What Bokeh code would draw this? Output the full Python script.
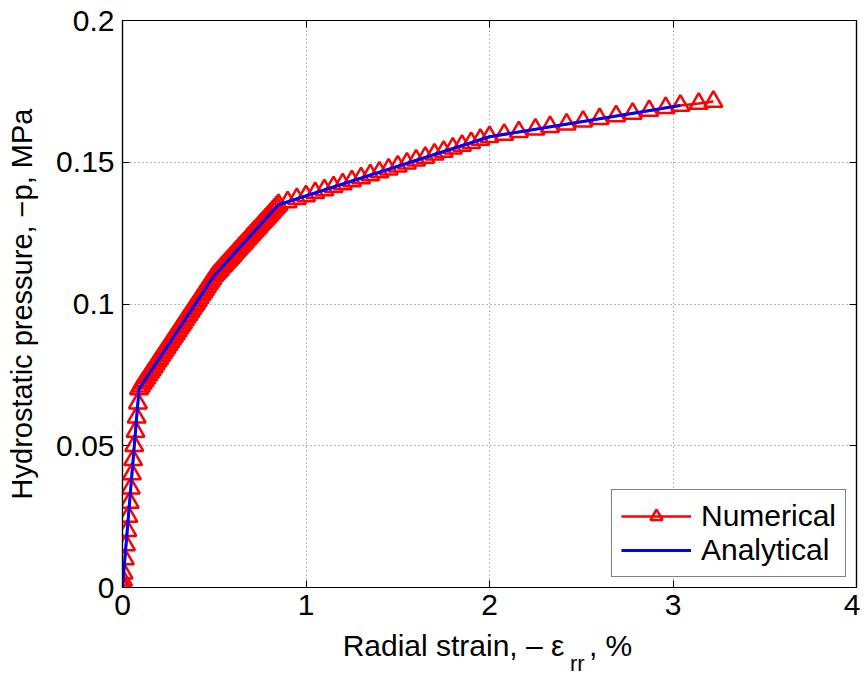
from bokeh.plotting import figure
from bokeh.models import Range1d, FixedTicker, LinearAxis, Legend, LegendItem
from bokeh.embed import file_html
from bokeh.resources import INLINE

# Analytical solution (knees of the piecewise curve)
ana_x = [0.0, 0.09, 0.50, 0.85, 2.00, 3.04]
ana_y = [0.0, 0.070, 0.110, 0.135, 0.159, 0.170]

num_x = [0.000, 0.001, 0.003, 0.006, 0.013, 0.019, 0.026, 0.032, 0.039, 0.045,
         0.051, 0.058, 0.064, 0.071, 0.077, 0.084, 0.090,
         0.10, 0.11, 0.12, 0.13, 0.14, 0.15, 0.16, 0.17, 0.18, 0.19,
         0.20, 0.21, 0.22, 0.23, 0.24, 0.25, 0.26, 0.27, 0.28, 0.29,
         0.30, 0.31, 0.32, 0.33, 0.34, 0.35, 0.36, 0.37, 0.38, 0.39,
         0.40, 0.41, 0.42, 0.43, 0.44, 0.45, 0.46, 0.47, 0.48, 0.49, 0.50,
         0.51, 0.52, 0.53, 0.54, 0.55, 0.56, 0.57, 0.58, 0.59, 0.60,
         0.61, 0.62, 0.63, 0.64, 0.65, 0.66, 0.67, 0.68, 0.69, 0.70,
         0.71, 0.72, 0.73, 0.74, 0.75, 0.76, 0.77, 0.78, 0.79, 0.80,
         0.81, 0.82, 0.83, 0.84, 0.85,
         0.90, 0.95, 1.00, 1.05, 1.10, 1.15, 1.20, 1.25, 1.30, 1.35,
         1.40, 1.45, 1.50, 1.55, 1.60, 1.65, 1.70, 1.75, 1.80, 1.85,
         1.90, 1.95, 2.00,
         2.08, 2.16, 2.25, 2.33, 2.42, 2.51, 2.60, 2.69, 2.78, 2.87,
         2.96, 3.04, 3.14, 3.22]
num_y = [0.0000, 0.0010, 0.0025, 0.0050, 0.0100, 0.0150, 0.0200, 0.0250, 0.0300, 0.0350,
         0.0400, 0.0450, 0.0500, 0.0550, 0.0600, 0.0650, 0.0700,
         0.0710, 0.0720, 0.0729, 0.0739, 0.0749, 0.0759, 0.0768, 0.0778, 0.0788, 0.0798,
         0.0807, 0.0817, 0.0827, 0.0837, 0.0846, 0.0856, 0.0866, 0.0876, 0.0885, 0.0895,
         0.0905, 0.0915, 0.0924, 0.0934, 0.0944, 0.0954, 0.0963, 0.0973, 0.0983, 0.0993,
         0.1002, 0.1012, 0.1022, 0.1032, 0.1041, 0.1051, 0.1061, 0.1071, 0.1080, 0.1090, 0.1100,
         0.1107, 0.1114, 0.1121, 0.1129, 0.1136, 0.1143, 0.1150, 0.1157, 0.1164, 0.1171,
         0.1179, 0.1186, 0.1193, 0.1200, 0.1207, 0.1214, 0.1221, 0.1229, 0.1236, 0.1243,
         0.1250, 0.1257, 0.1264, 0.1271, 0.1279, 0.1286, 0.1293, 0.1300, 0.1307, 0.1314,
         0.1321, 0.1329, 0.1336, 0.1343, 0.1350,
         0.1360, 0.1371, 0.1381, 0.1392, 0.1402, 0.1413, 0.1423, 0.1434, 0.1444, 0.1455,
         0.1465, 0.1475, 0.1486, 0.1496, 0.1507, 0.1517, 0.1528, 0.1538, 0.1549, 0.1559,
         0.1569, 0.1580, 0.1590,
         0.1598, 0.1607, 0.1616, 0.1625, 0.1634, 0.1644, 0.1653, 0.1663, 0.1672, 0.1682,
         0.1692, 0.1700, 0.1707, 0.1714]

x_ticks = [0, 1, 2, 3, 4]
x_tick_labels = ["0", "1", "2", "3", "4"]
y_ticks = [0, 0.05, 0.1, 0.15, 0.2]
y_tick_labels = ["0", "0.05", "0.1", "0.15", "0.2"]

x_label_main = "Radial strain, \u2013 \u03b5"
x_label_sub = "rr"
x_label_tail = ", %"
y_label = "Hydrostatic pressure, \u2212p, MPa"
series_names = ["Numerical", "Analytical"]

FONT = "Liberation Sans"
FS = "30px"

p = figure(width=860, height=678, output_backend="svg", toolbar_location=None,
           x_range=Range1d(0, 4), y_range=Range1d(0, 0.2),
           min_border_left=122, min_border_right=4, min_border_top=20, min_border_bottom=91)
p.background_fill_color = "white"
p.border_fill_color = "white"
p.outline_line_color = "black"
p.outline_line_width = 1.2

# Axes
for ax, ticks, labels in ((p.xaxis[0], x_ticks, x_tick_labels), (p.yaxis[0], y_ticks, y_tick_labels)):
    ax.ticker = FixedTicker(ticks=ticks)
    ax.major_label_overrides = {t: l for t, l in zip(ticks, labels)}
    ax.major_label_text_font = FONT
    ax.major_label_text_font_size = FS
    ax.major_label_text_color = "black"
    ax.major_tick_in = 7
    ax.major_tick_out = 0
    ax.minor_tick_in = 0
    ax.minor_tick_out = 0
    ax.axis_line_color = "black"
    ax.axis_line_width = 1.2
    ax.major_tick_line_color = "black"
    ax.major_label_standoff = 8
p.xaxis[0].major_label_standoff = 7

p.yaxis[0].axis_label = y_label
p.yaxis[0].axis_label_text_font = FONT
p.yaxis[0].axis_label_text_font_size = "29px"
p.yaxis[0].axis_label_text_font_style = "normal"
p.yaxis[0].axis_label_text_color = "black"
p.yaxis[0].axis_label_standoff = 15

# top/right tick-only axes (box)
top = LinearAxis(ticker=FixedTicker(ticks=x_ticks), major_label_overrides={t: "" for t in x_ticks},
                 major_tick_in=7, major_tick_out=0, minor_tick_in=0, minor_tick_out=0,
                 major_label_standoff=0, axis_line_width=1.2)
right = LinearAxis(ticker=FixedTicker(ticks=y_ticks), major_label_overrides={t: "" for t in y_ticks},
                   major_tick_in=7, major_tick_out=0, minor_tick_in=0, minor_tick_out=0,
                   major_label_standoff=0, axis_line_width=1.2)
p.add_layout(top, "above")
p.add_layout(right, "right")

# X axis label built from two extra label-only axes (main text + subscript)
lab_pos_main = [1.804, 2.66]
lab_pos_sub = [2.478]
ax_main = LinearAxis(ticker=FixedTicker(ticks=lab_pos_main),
                     major_label_overrides={lab_pos_main[0]: x_label_main, lab_pos_main[1]: x_label_tail},
                     major_label_text_font=FONT, major_label_text_font_size=FS,
                     major_label_text_color="black",
                     axis_line_color=None, major_tick_line_color=None, minor_tick_line_color=None,
                     major_tick_in=0, major_tick_out=0, minor_tick_in=0, minor_tick_out=0,
                     major_label_standoff=11)
ax_sub = LinearAxis(ticker=FixedTicker(ticks=lab_pos_sub),
                    major_label_overrides={lab_pos_sub[0]: x_label_sub},
                    major_label_text_font=FONT, major_label_text_font_size="22px",
                    major_label_text_color="black",
                    axis_line_color=None, major_tick_line_color=None, minor_tick_line_color=None,
                    major_tick_in=0, major_tick_out=0, minor_tick_in=0, minor_tick_out=0,
                    major_label_standoff=-14)
p.add_layout(ax_main, "below")
p.add_layout(ax_sub, "below")

# Grid
for g in (p.xgrid[0], p.ygrid[0]):
    g.grid_line_color = "black"
    g.grid_line_alpha = 0.55
    g.grid_line_dash = "1 3"
    g.grid_line_width = 1
p.xgrid[0].ticker = FixedTicker(ticks=x_ticks)
p.ygrid[0].ticker = FixedTicker(ticks=y_ticks)

# Data
r_nl = p.line(num_x, num_y, line_color="red", line_width=2.5)
r_nm = p.scatter(num_x, num_y, marker="triangle", size=18, fill_alpha=0,
                 line_color="red", line_width=2.5)
r_an = p.line(ana_x, ana_y, line_color="blue", line_width=3)

legend = Legend(items=[LegendItem(label=series_names[0], renderers=[r_nl, r_nm]),
                       LegendItem(label=series_names[1], renderers=[r_an])],
                location="bottom_right", margin=10, padding=9, spacing=0,
                glyph_width=70, glyph_height=30, label_standoff=10,
                label_text_font=FONT, label_text_font_size=FS, label_text_color="black",
                border_line_color="black", border_line_width=1.2,
                background_fill_alpha=1)
p.add_layout(legend, "center")

open("out.html", "w").write(file_html(p, INLINE))
